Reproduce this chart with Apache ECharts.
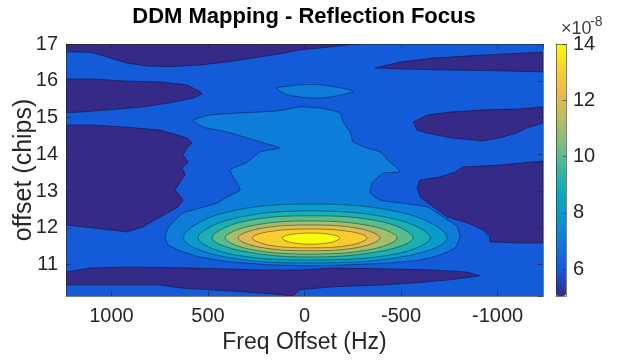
<!DOCTYPE html>
<html>
<head>
<meta charset="utf-8">
<script src="https://cdn.jsdelivr.net/npm/echarts@6/dist/echarts.min.js"></script>
<style>
html,body{margin:0;padding:0;background:#fff;}
#chart{width:635px;height:360px;}
</style>
</head>
<body>
<div id="chart"></div>
<script>
// ---- Axis ranges (Hz, chips, colour scale x1e-8) ----
const freqRange = [-1235, 1235];
const chipRange = [10.15, 17];
const colorRange = [5.04, 14];

// ---- Filled-contour level values (x1e-8) ----
const levelBelow = 5.04;          // region under the first contour
const levelBackground = 6;        // 6..7 band (most of the map)
const levelPlume = 7;             // 7..8 band
const ringLevels = [8, 9, 10, 11, 12, 13, 14];

// ---- Region boundaries: [freq Hz, offset chips] ----
const bgArea = [[1235,10.15],[1235,17],[-1235,17],[-1235,10.15]];

const darkTopBand = [[1235,17],[-288,17],[-262,17],[-184,16.95],[-81,16.89],[23,16.84],[126,16.73],[230,16.65],[401,16.51],[540,16.43],[696,16.38],[815,16.40],[918,16.48],[1006,16.62],[1094,16.76],[1161,16.78],[1235,16.78]];
const darkLeftUpper = [[1235,16.05],[1094,16.05],[918,15.99],[747,15.97],[608,15.89],[540,15.70],[530,15.64],[577,15.53],[696,15.40],[835,15.29],[1006,15.21],[1161,15.15],[1235,15.13]];
const darkLeftLower = [[1235,14.80],[1094,14.80],[918,14.74],[747,14.66],[608,14.45],[582,14.31],[608,14.17],[628,13.98],[603,13.79],[634,13.63],[618,13.44],[644,13.25],[670,13.03],[628,12.76],[654,12.57],[747,12.30],[835,12.03],[918,11.89],[1094,12.00],[1235,12.08]];
const darkBottomBand = [[1235,10.80],[1109,10.91],[918,10.94],[577,10.91],[230,10.86],[23,10.86],[-148,10.91],[-407,10.89],[-666,10.86],[-842,10.80],[-894,10.72],[-909,10.70],[-754,10.59],[-583,10.51],[-407,10.45],[-148,10.40],[23,10.32],[59,10.15],[178,10.21],[401,10.29],[649,10.37],[747,10.45],[1235,10.45]];
const darkRightTop = [[-366,16.35],[-495,16.51],[-666,16.62],[-924,16.70],[-1235,16.78],[-1235,16.24],[-1012,16.27],[-754,16.29],[-495,16.32]];
const darkRightMid = [[-562,14.88],[-635,15.07],[-754,15.15],[-924,15.21],[-1100,15.23],[-1235,15.29],[-1235,14.85],[-1152,14.72],[-1100,14.58],[-1012,14.45],[-924,14.36],[-754,14.45],[-635,14.58],[-583,14.66]];
const darkRightLow = [[-821,13.66],[-1012,13.71],[-1235,13.82],[-1235,11.59],[-1100,11.59],[-960,11.62],[-960,11.76],[-924,11.95],[-842,12.14],[-739,12.30],[-666,12.57],[-598,12.84],[-583,13.11],[-598,13.30],[-702,13.39],[-780,13.52]];

const plumeMain = [[577,14.93],[489,15.07],[318,15.13],[142,15.18],[23,15.29],[-81,15.26],[-184,15.13],[-200,14.88],[-236,14.61],[-252,14.34],[-324,14.17],[-391,14.07],[-443,13.79],[-479,13.63],[-495,13.52],[-407,13.49],[-350,13.22],[-340,12.95],[-391,12.76],[-495,12.68],[-635,12.57],[-718,12.30],[-790,12.03],[-805,11.76],[-780,11.46],[-702,11.27],[-598,11.13],[-443,11.05],[-236,11.00],[-29,10.97],[178,11.00],[385,11.08],[540,11.21],[644,11.38],[705,11.54],[721,11.73],[711,11.95],[685,12.14],[628,12.41],[540,12.54],[452,12.68],[401,12.84],[333,13.03],[349,13.22],[370,13.39],[385,13.58],[297,13.79],[230,14.07],[126,14.17],[230,14.34],[401,14.61],[525,14.74]];
const plumePatch = [[142,15.80],[75,15.86],[23,15.89],[-81,15.89],[-252,15.72],[-184,15.61],[-81,15.53],[23,15.56],[100,15.64]];

const ring8  = [[628,11.73],[437,12.38],[-29,12.65],[-531,12.38],[-739,11.73],[-531,11.24],[-29,11.05],[437,11.24]];
const ring9  = [[551,11.73],[380,12.24],[-29,12.46],[-469,12.24],[-651,11.73],[-469,11.29],[-29,11.13],[380,11.29]];
const ring10 = [[478,11.73],[328,12.16],[-29,12.33],[-407,12.16],[-562,11.73],[-407,11.38],[-29,11.21],[328,11.38]];
const ring11 = [[411,11.73],[282,12.05],[-29,12.19],[-347,12.05],[-479,11.73],[-347,11.42],[-29,11.29],[282,11.42]];
const ring12 = [[344,11.73],[235,11.98],[-29,12.08],[-287,11.98],[-391,11.73],[-287,11.48],[-29,11.38],[235,11.48]];
const ring13 = [[271,11.73],[183,11.90],[-29,11.97],[-238,11.90],[-324,11.73],[-238,11.53],[-29,11.46],[183,11.53]];
const ring14 = [[116,11.73],[73,11.82],[-29,11.86],[-139,11.82],[-184,11.73],[-139,11.61],[-29,11.56],[73,11.61]];

// ---- Colour map (parula) ----
const parula = ['#352a87','#1459da','#0f77db','#0c93d2','#07a9c2','#33b8a1','#7abf7c','#b7bd64','#ecb94c','#fad12b','#f9fb0e'];

// ---- Build region table ----
const rings = [ring8, ring9, ring10, ring11, ring12, ring13, ring14];
const regions = [
  {pts: bgArea, level: levelBackground, smooth: 0, stroke: false},
  {pts: darkTopBand, level: levelBelow, smooth: 0, stroke: true},
  {pts: darkLeftUpper, level: levelBelow, smooth: 0, stroke: true},
  {pts: darkLeftLower, level: levelBelow, smooth: 0, stroke: true},
  {pts: darkBottomBand, level: levelBelow, smooth: 0, stroke: true},
  {pts: darkRightTop, level: levelBelow, smooth: 0, stroke: true},
  {pts: darkRightMid, level: levelBelow, smooth: 0, stroke: true},
  {pts: darkRightLow, level: levelBelow, smooth: 0, stroke: true},
  {pts: plumeMain, level: levelPlume, smooth: 0.15, stroke: true},
  {pts: plumePatch, level: levelPlume, smooth: 0.3, stroke: true}
];
rings.forEach((r, i) => regions.push({pts: r, level: ringLevels[i], smooth: 0.375, stroke: true}));

const FONT = '"Liberation Sans", Arial, Helvetica, sans-serif';
const TXT = '#262626';
const fmt = v => String(v);

const chart = echarts.init(document.getElementById('chart'), null, {renderer: 'canvas'});

const frameAxis = (extra) => Object.assign({
  type: 'value', splitLine: {show: false}, z: 10,
  axisLine: {show: true, onZero: false, lineStyle: {color: TXT, width: 0.6}},
  axisTick: {show: true, inside: true, length: 5, lineStyle: {color: TXT, width: 0.6}},
  axisLabel: {show: false}
}, extra);

chart.setOption({
  animation: false,
  textStyle: {fontFamily: FONT},
  grid: [
    {left: 66, top: 44, right: 92, bottom: 64, containLabel: false, outerBoundsMode: 'none'},
    {left: 556, top: 44, width: 10, height: 252, containLabel: false, outerBoundsMode: 'none'}
  ],
  xAxis: [
    frameAxis({gridIndex: 0, min: freqRange[0], max: freqRange[1], inverse: true, position: 'bottom',
      axisLabel: {show: true, formatter: fmt, fontSize: 20, color: TXT, margin: 10, fontFamily: FONT, showMinLabel: false, showMaxLabel: false},
      name: 'Freq Offset (Hz)', nameLocation: 'middle', nameGap: 32,
      nameTextStyle: {fontSize: 23, color: TXT, fontFamily: FONT}}),
    frameAxis({gridIndex: 0, min: freqRange[0], max: freqRange[1], inverse: true, position: 'top'}),
    frameAxis({gridIndex: 1, min: 0, max: 1, position: 'bottom', axisTick: {show: false}}),
    frameAxis({gridIndex: 1, min: 0, max: 1, position: 'top', axisTick: {show: false}})
  ],
  yAxis: [
    frameAxis({gridIndex: 0, min: chipRange[0], max: chipRange[1], position: 'left',
      axisLabel: {show: true, formatter: fmt, fontSize: 20, color: TXT, margin: 8, fontFamily: FONT, showMinLabel: false, showMaxLabel: true},
      name: 'offset (chips)', nameLocation: 'middle', nameGap: 29, nameRotate: 90, nameMoveOverlap: false,
      nameTextStyle: {fontSize: 25, color: TXT, fontFamily: FONT}}),
    frameAxis({gridIndex: 0, min: chipRange[0], max: chipRange[1], position: 'right'}),
    frameAxis({gridIndex: 1, min: colorRange[0], max: colorRange[1], position: 'right',
      axisTick: {show: true, inside: true, length: 3, lineStyle: {color: TXT, width: 0.6}},
      axisLabel: {show: true, formatter: fmt, fontSize: 20, color: TXT, margin: 7, fontFamily: FONT, showMinLabel: false, showMaxLabel: true}}),
    frameAxis({gridIndex: 1, min: colorRange[0], max: colorRange[1], position: 'left', axisTick: {show: false}})
  ],
  visualMap: {
    type: 'continuous', min: colorRange[0], max: colorRange[1], dimension: 2, seriesIndex: 0,
    inRange: {color: parula}, calculable: false, orient: 'vertical',
    left: 556, top: 44, itemWidth: 10, itemHeight: 252, padding: 0, hoverLink: false
  },
  graphic: [
    {type: 'text', x: 304, y: 17, style: {text: 'DDM Mapping - Reflection Focus', fill: '#000',
      font: 'bold 22px ' + FONT, textAlign: 'center', textVerticalAlign: 'middle', align: 'center', verticalAlign: 'middle'}},
    {type: 'text', x: 561, y: 38, style: {text: '×10', fill: '#404040', font: '18px ' + FONT,
      textAlign: 'left', textVerticalAlign: 'bottom', align: 'left', verticalAlign: 'bottom'}},
    {type: 'text', x: 590, y: 29, style: {text: '-8', fill: '#404040', font: '14px ' + FONT,
      textAlign: 'left', textVerticalAlign: 'bottom', align: 'left', verticalAlign: 'bottom'}}
  ],
  series: [{
    type: 'custom', coordinateSystem: 'cartesian2d', xAxisIndex: 0, yAxisIndex: 0,
    clip: true, silent: true,
    encode: {x: 0, y: 1},
    data: regions.map(r => [r.pts[0][0], r.pts[0][1], r.level]),
    renderItem: function (params, api) {
      const reg = regions[params.dataIndex];
      const pts = reg.pts.map(p => api.coord(p));
      return {
        type: 'polygon',
        shape: {points: pts, smooth: reg.smooth},
        style: {
          fill: api.visual('color'),
          stroke: reg.stroke ? 'rgba(0,0,0,0.55)' : null,
          lineWidth: reg.stroke ? 0.7 : 0
        }
      };
    }
  }]
});
</script>
</body>
</html>
